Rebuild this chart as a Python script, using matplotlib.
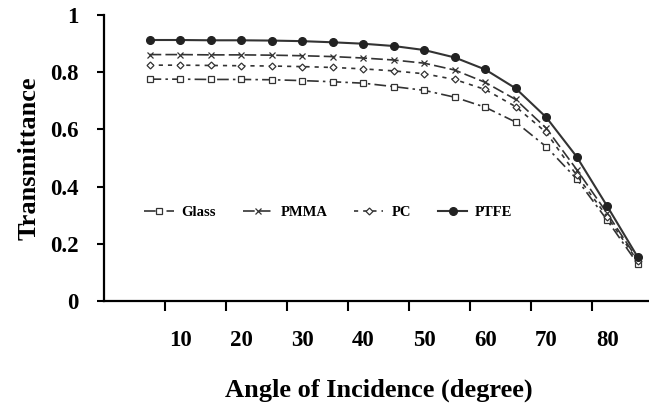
import numpy as np
import matplotlib
matplotlib.use('Agg')
import matplotlib.pyplot as plt

# --------------------------
# 数据
# --------------------------
angles = [5, 10, 15, 20, 25, 30, 35, 40, 45, 50, 55, 60, 65, 70, 75, 80, 85]
glass = [0.776, 0.776, 0.775, 0.775, 0.774, 0.771, 0.767, 0.762, 0.750, 0.737,
         0.713, 0.678, 0.626, 0.540, 0.427, 0.283, 0.130]
pmma = [0.862, 0.862, 0.861, 0.861, 0.860, 0.858, 0.855, 0.850, 0.843, 0.832,
        0.808, 0.765, 0.705, 0.605, 0.460, 0.307, 0.145]
pc = [0.825, 0.825, 0.824, 0.823, 0.822, 0.820, 0.817, 0.812, 0.805, 0.795,
      0.775, 0.740, 0.680, 0.590, 0.440, 0.295, 0.140]
ptfe = [0.913, 0.913, 0.912, 0.912, 0.911, 0.909, 0.905, 0.900, 0.892, 0.878,
        0.852, 0.810, 0.744, 0.643, 0.505, 0.332, 0.154]

x_labels = [10, 20, 30, 40, 50, 60, 70, 80]
y_ticks = [0, 0.2, 0.4, 0.6, 0.8, 1]
y_tick_labels = ['0', '0.2', '0.4', '0.6', '0.8', '1']

# --------------------------
# 全局绘图规范
# --------------------------
plt.rcParams['font.family'] = ['Liberation Serif', 'DejaVu Serif']
plt.rcParams['font.weight'] = 'bold'
LINE_C = '#333333'

fig = plt.figure(figsize=(6.49, 4.09), dpi=100)
ax = fig.add_axes([0.160, 0.264, 0.846, 0.699])

ax.plot(angles, glass, color=LINE_C, linewidth=1.2, linestyle=(0, (7, 2.5, 1.5, 2.5)),
        marker='s', markersize=5, markerfacecolor='white', markeredgecolor=LINE_C,
        markeredgewidth=0.9, label='Glass')
ax.plot(angles, pmma, color=LINE_C, linewidth=1.2, linestyle=(0, (7, 2.5)),
        marker='x', markersize=4, markeredgewidth=0.9, label='PMMA')
ax.plot(angles, pc, color=LINE_C, linewidth=1.2, linestyle=(0, (2.5, 3)),
        marker='D', markersize=3.5, markerfacecolor='white', markeredgecolor=LINE_C,
        markeredgewidth=0.9, label='PC')
ax.plot(angles, ptfe, color=LINE_C, linewidth=1.5, linestyle='-',
        marker='o', markersize=5.5, markerfacecolor='#222222', markeredgecolor='#222222',
        label='PTFE')

ax.set_xlim(-2.5, 87.5)
ax.set_ylim(0, 1)

# 刻度：类别边界上的刻度线，标签放在类别中心
ax.set_xticks(np.arange(7.5, 80, 10))
ax.set_xticklabels([])
ax.set_xticks(x_labels, minor=True)
ax.set_xticklabels([str(v) for v in x_labels], minor=True, fontsize=16.5, fontweight='bold')
ax.tick_params(axis='x', which='major', direction='out', length=7, width=1.5)
ax.tick_params(axis='x', which='minor', length=0, pad=21)

ax.set_yticks(y_ticks)
ax.set_yticklabels(y_tick_labels, fontsize=16.5, fontweight='bold')
ax.tick_params(axis='y', direction='out', length=5, width=1.5, pad=13)

for s in ['top', 'right']:
    ax.spines[s].set_visible(False)
for s in ['left', 'bottom']:
    ax.spines[s].set_linewidth(1.6)

ax.set_xlabel('Angle of Incidence (degree)', fontsize=19, fontweight='bold', labelpad=20)
ax.set_ylabel('Transmittance', fontsize=19, fontweight='bold', labelpad=7)

ax.legend(loc='center left', bbox_to_anchor=(0.05, 0.31), ncol=4, frameon=False,
          prop={'size': 10.5, 'weight': 'bold'}, handlelength=2.0, columnspacing=1.85,
          handletextpad=0.55)

plt.savefig('out.png', dpi=100)
plt.close()
